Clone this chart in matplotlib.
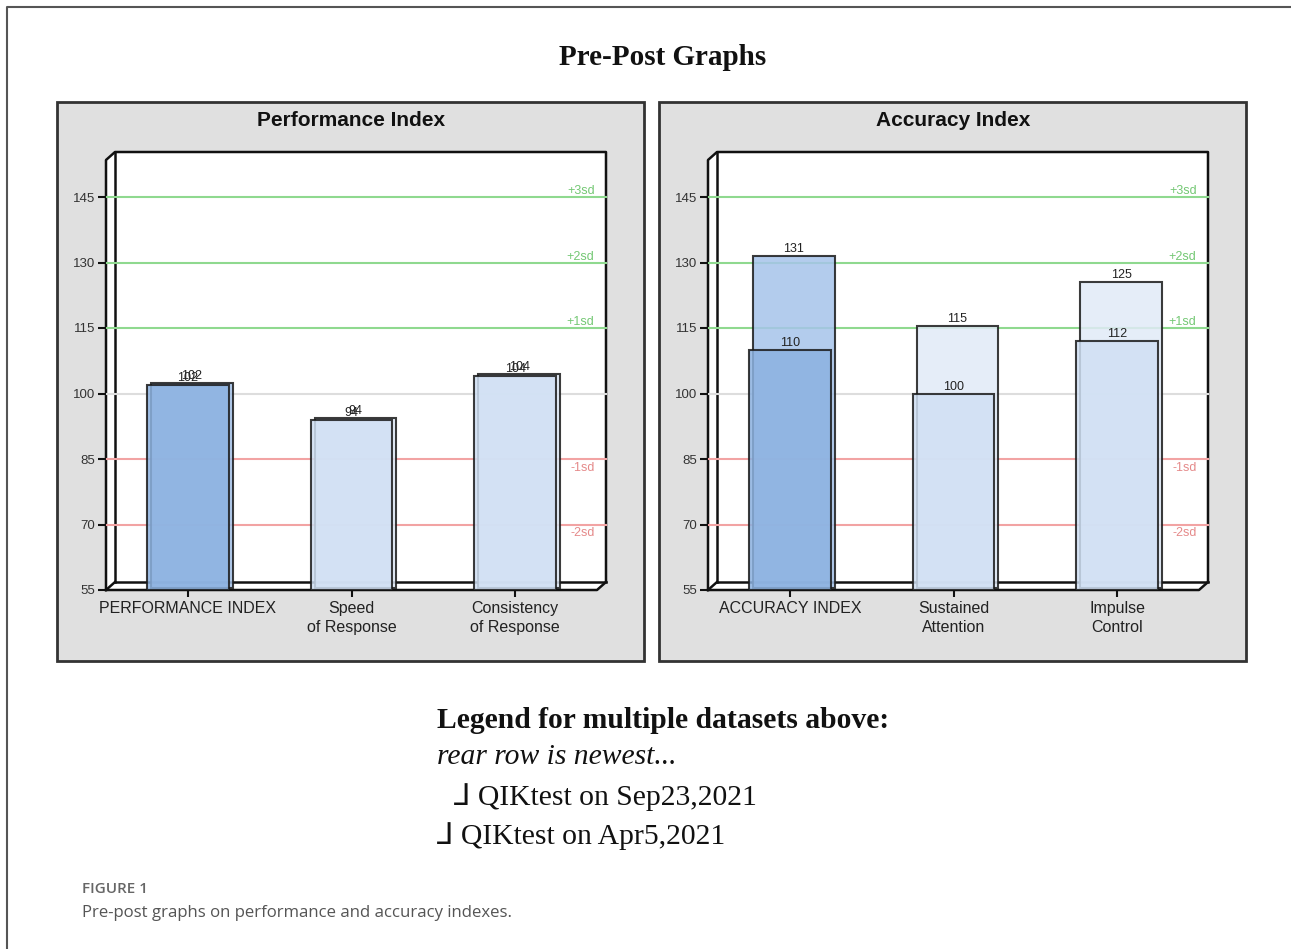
import matplotlib
matplotlib.use("Agg")
import matplotlib.pyplot as plt
from matplotlib.patches import Polygon, Rectangle
from matplotlib.transforms import ScaledTranslation, blended_transform_factory

# ---------------- data ----------------
main_title = "Pre-Post Graphs"
panel_titles = ["Performance Index", "Accuracy Index"]
categories = [["PERFORMANCE INDEX", "Speed\nof Response", "Consistency\nof Response"],
              ["ACCURACY INDEX", "Sustained\nAttention", "Impulse\nControl"]]
rear_values = [[102, 94, 104], [131, 115, 125]]    # newest (rear row): Sep23,2021
front_values = [[102, 94, 104], [110, 100, 112]]   # Apr5,2021
y_ticks = [55, 70, 85, 100, 115, 130, 145]
sd_levels = [145, 130, 115, 85, 70]
sd_labels = ["+3sd", "+2sd", "+1sd", "-1sd", "-2sd"]
mean_level = 100
legend_lines = ["Legend for multiple datasets above:", "rear row is newest...",
                "\u2143 QIKtest on Sep23,2021", "\u2143 QIKtest on Apr5,2021"]
caption_label = "FIGURE 1"
caption_text = "Pre-post graphs on performance and accuracy indexes."

# ---------------- figure ----------------
W, H, DPI = 1291, 949, 100
fig = plt.figure(figsize=(W / DPI, H / DPI), dpi=DPI)
fig.patch.set_facecolor("white")

SANS = ["Liberation Sans", "DejaVu Sans"]
SERIF = ["Liberation Serif", "DejaVu Serif", "DejaVu Sans"]

ov = fig.add_axes([0, 0, 1, 1], zorder=0)
ov.set_xlim(0, W)
ov.set_ylim(H, 0)
ov.axis("off")

# outer frame
ov.plot([7, 7, W], [H, 7, 7], color="#555555", lw=1.5, solid_capstyle="butt")

ov.text(663, 57, main_title, ha="center", va="center", fontsize=21,
        fontweight="bold", family=SERIF, color="#111111")

PANEL_DX = 602
Y0PX, Y145PX = 590, 197          # pixel rows of value 55 and 145
PPU = (Y0PX - Y145PX) / 90.0
FX0, FX1 = 106, 597              # front plot box
DEPTH_X, DEPTH_Y = 9, 8
TOP = 152

hi_front, hi_rear = "#8cb2e1", "#a6c4ea"
lo_front, lo_rear = "#d0e0f4", "#e1eaf7"

for p in range(2):
    dx = p * PANEL_DX
    # panel box
    ov.add_patch(Rectangle((57 + dx, 102), 587, 559, facecolor="#e0e0e0",
                           edgecolor="#333333", lw=2))
    ov.text(351 + dx, 120, panel_titles[p], ha="center", va="center",
            fontsize=15, fontweight="bold", family=SANS, color="#111111")
    # 3-D box (white walls)
    fl, fr = FX0 + dx, FX1 + dx
    bl, br = fl + DEPTH_X, fr + DEPTH_X
    bb = Y0PX - DEPTH_Y
    ov.add_patch(Polygon([(fl, Y0PX), (fl, TOP + DEPTH_Y), (bl, TOP), (br, TOP),
                          (br, bb), (fr, Y0PX)], closed=True,
                         facecolor="white", edgecolor="none"))
    k = dict(color="#111111", lw=1.8, solid_capstyle="projecting")
    ov.plot([fl, fl, bl, br, br], [Y0PX, TOP + DEPTH_Y, TOP, TOP, bb], **k)
    ov.plot([bl, bl], [TOP, bb], **k)
    ov.plot([bl, br], [bb, bb], **k)
    ov.plot([fl, bl], [Y0PX, bb], **k)
    ov.plot([fl, fr, br, br], [Y0PX, Y0PX, bb, bb], **k)

    # data axes aligned with the front plot box
    ax = fig.add_axes([fl / W, 1 - Y0PX / H, (fr - fl) / W, (Y0PX - TOP) / H], zorder=1)
    ax.patch.set_visible(False)
    for s in ax.spines.values():
        s.set_visible(False)
    ax.set_xlim(-0.5, 2.5)
    ax.set_ylim(55, 55 + (Y0PX - TOP) / PPU)

    # reference lines
    ext = 1 + DEPTH_X / (fr - fl)
    ax.axhline(mean_level, xmin=0, xmax=ext, color="#dddddd", lw=1.5, clip_on=False, zorder=1)
    bt = blended_transform_factory(ax.transAxes, ax.transData)
    for lvl, lab in zip(sd_levels, sd_labels):
        col = "#8fd98f" if lvl > mean_level else "#f2a3a3"
        tcol = "#74c874" if lvl > mean_level else "#e58a8a"
        ax.axhline(lvl, xmin=0, xmax=ext, color=col, lw=1.5, clip_on=False, zorder=1)
        if lvl > mean_level:
            ax.text(0.995, lvl, lab, transform=bt + ScaledTranslation(0, 0 / DPI, fig.dpi_scale_trans),
                    ha="right", va="bottom", fontsize=9, color=tcol, family=SANS)
        else:
            ax.text(0.995, lvl, lab, transform=bt + ScaledTranslation(0, -3 / DPI, fig.dpi_scale_trans),
                    ha="right", va="top", fontsize=9, color=tcol, family=SANS)

    xs = list(range(len(categories[p])))
    rear_cols = [hi_rear] + [lo_rear] * (len(xs) - 1)
    front_cols = [hi_front] + [lo_front] * (len(xs) - 1)
    off = ScaledTranslation(4 / DPI, 2 / DPI, fig.dpi_scale_trans)
    rv = [v - 55 for v in rear_values[p]]
    fv = [v - 55 for v in front_values[p]]
    ax.bar(xs, rv, bottom=55, width=0.5, color=rear_cols, edgecolor="#1a1a1a",
           lw=1.5, alpha=0.85, zorder=2, transform=ax.transData + off)
    ax.bar(xs, fv, bottom=55, width=0.5, color=front_cols, edgecolor="#1a1a1a",
           lw=1.5, alpha=0.85, zorder=3)
    lab_off = ScaledTranslation(0, 1 / DPI, fig.dpi_scale_trans)
    for x, v in zip(xs, rear_values[p]):
        ax.text(x, v, str(v), ha="center", va="bottom", fontsize=9, family=SANS,
                color="#222222", transform=ax.transData + off + lab_off, zorder=4)
    for x, v in zip(xs, front_values[p]):
        ax.text(x, v, str(v), ha="center", va="bottom", fontsize=9, family=SANS,
                color="#222222", transform=ax.transData + lab_off, zorder=4)

    ax.set_yticks(y_ticks)
    ax.set_yticklabels([str(t) for t in y_ticks], family=SANS, fontsize=9.5, color="#333333")
    ax.set_xticks(xs)
    ax.set_xticklabels(categories[p], family=SANS, fontsize=11.5, color="#222222",
                       linespacing=1.3)
    ax.tick_params(axis="y", direction="out", length=6, width=1.5, pad=2, color="#111111")
    ax.tick_params(axis="x", direction="out", length=5, width=1.5, pad=3, color="#111111")

# legend text block
LFS = 21.3
ov.text(437, 720, legend_lines[0], ha="left", va="center", fontsize=LFS,
        fontweight="bold", family=SERIF, color="#111111")
ov.text(437, 757, legend_lines[1], ha="left", va="center", fontsize=LFS,
        style="italic", family=SERIF, color="#111111")
ov.text(454, 797, legend_lines[2], ha="left", va="center", fontsize=LFS,
        family=SERIF, color="#111111")
ov.text(437, 836, legend_lines[3], ha="left", va="center", fontsize=LFS,
        family=SERIF, color="#111111")

# caption
ov.text(82, 889, caption_label, ha="left", va="center", fontsize=11,
        family=["Open Sans", "DejaVu Sans"], color="#666666", fontweight="semibold")
ov.text(82, 913, caption_text, ha="left", va="center", fontsize=12.1,
        family=["Open Sans", "DejaVu Sans"], color="#555555")

fig.savefig("out.png", dpi=DPI)
